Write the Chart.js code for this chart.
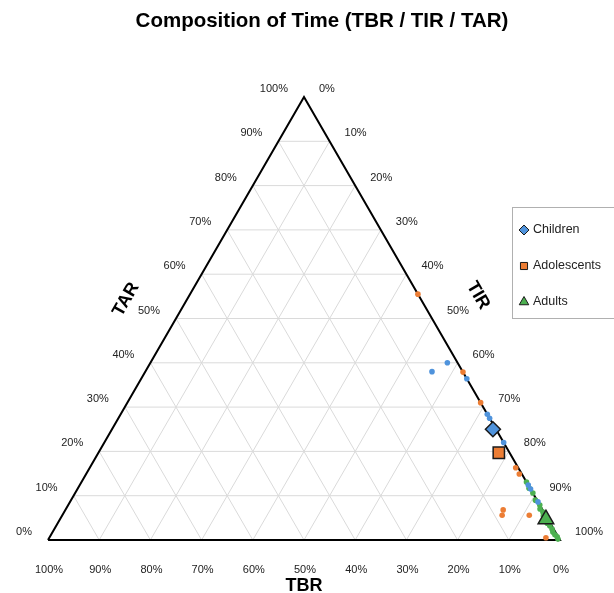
<!DOCTYPE html>
<html>
<head>
<meta charset="utf-8">
<script src="https://cdn.jsdelivr.net/npm/chart.js@4.4.1/dist/chart.umd.min.js"></script>
<style>
  html, body { margin: 0; padding: 0; background: #fff; }
  #wrap { width: 614px; height: 593px; }
</style>
</head>
<body>
<div id="wrap"><canvas id="chart" width="614" height="593"></canvas></div>
<script>
// Ternary plot: TBR / TIR / TAR fractions (each row sums to 1)
const TITLE = 'Composition of Time (TBR / TIR / TAR)';
const TICKS = [0, 0.1, 0.2, 0.3, 0.4, 0.5, 0.6, 0.7, 0.8, 0.9, 1];
const TICK_LABELS = ['0%', '10%', '20%', '30%', '40%', '50%', '60%', '70%', '80%', '90%', '100%'];
const GROUPS = ['Children', 'Adolescents', 'Adults'];

const childrenTBR = [0.02, 0.06, 0.00, 0.00, 0.00, 0.00, 0.00, 0.00, 0.00];
const childrenTIR = [0.58, 0.56, 0.636, 0.716, 0.725, 0.78, 0.885, 0.876, 0.914];
const childrenTAR = [0.40, 0.38, 0.364, 0.284, 0.275, 0.22, 0.115, 0.124, 0.086];

const adolescentsTBR = [0.00, 0.00, 0.00, 0.005, 0.005, 0.077, 0.085, 0.032, 0.025];
const adolescentsTIR = [0.445, 0.621, 0.69, 0.832, 0.846, 0.855, 0.859, 0.912, 0.97];
const adolescentsTAR = [0.555, 0.379, 0.31, 0.163, 0.149, 0.068, 0.056, 0.056, 0.005];

const adultsTBR = [0.00, 0.002, 0.00, 0.003, 0.00, 0.004, 0.002, 0.005, 0.003, 0.006, 0.004, 0.003, 0.005, 0.004, 0.002, 0.003];
const adultsTIR = [0.869, 0.881, 0.894, 0.907, 0.921, 0.926, 0.935, 0.940, 0.952, 0.956, 0.964, 0.972, 0.977, 0.984, 0.991, 0.995];
const adultsTAR = [0.131, 0.117, 0.106, 0.09, 0.079, 0.07, 0.063, 0.055, 0.045, 0.038, 0.032, 0.025, 0.018, 0.012, 0.007, 0.002];

const meanTBR = [0.006, 0.021, 0.004];
const meanTIR = [0.744, 0.782, 0.949];
const meanTAR = [0.25, 0.197, 0.047];

const COLORS = ['#4f93dc', '#ec7d34', '#4cb050'];
const MEAN_STYLES = ['rectRot', 'rect', 'triangle'];
const MEAN_RADII = [7.5, 8, 9];

const H = Math.sqrt(3) / 2;

// barycentric -> cartesian (TBR at bottom-left, TIR at bottom-right, TAR on top)
const toXY = (tbr, tir, tar) => ({x: tir + tar / 2, y: tar * H});

const groupPoints = (tbr, tir, tar) => tbr.map((v, i) => toXY(v, tir[i], tar[i]));

const lineSet = (data, color, width, order) => ({
    label: 'line',
    data: data,
    showLine: true,
    pointRadius: 0,
    borderColor: color,
    borderWidth: width,
    borderJoinStyle: 'miter',
    clip: false,
    order: order,
});

const pointSet = (label, data, color) => ({
    label: label,
    data: data,
    pointStyle: 'circle',
    pointRadius: 2.8,
    pointBorderWidth: 0,
    backgroundColor: color,
    borderColor: color,
    clip: false,
    order: 2,
});

const datasets = [
    pointSet(GROUPS[0], groupPoints(childrenTBR, childrenTIR, childrenTAR), COLORS[0]),
    pointSet(GROUPS[1], groupPoints(adolescentsTBR, adolescentsTIR, adolescentsTAR), COLORS[1]),
    pointSet(GROUPS[2], groupPoints(adultsTBR, adultsTIR, adultsTAR), COLORS[2]),
];

GROUPS.forEach((g, i) => {
    datasets.push({
        label: g + ' mean',
        data: [toXY(meanTBR[i], meanTIR[i], meanTAR[i])],
        pointStyle: MEAN_STYLES[i],
        pointRadius: MEAN_RADII[i],
        pointBorderWidth: 1.5,
        backgroundColor: COLORS[i],
        borderColor: '#1a1a1a',
        clip: false,
        order: 1,
    });
});

// grid: one line per tick on each of the three axes
TICKS.slice(1, -1).forEach((t) => {
    const r = 1 - t;
    datasets.push(lineSet([toXY(r, 0, t), toXY(0, r, t)], '#dadada', 1, 4));
    datasets.push(lineSet([toXY(r, t, 0), toXY(0, t, r)], '#dadada', 1, 4));
    datasets.push(lineSet([toXY(t, r, 0), toXY(t, 0, r)], '#dadada', 1, 4));
});

datasets.push(lineSet([toXY(1, 0, 0), toXY(0, 1, 0), toXY(0, 0, 1), toXY(1, 0, 0)], '#000', 2, 3));

const labelsPlugin = {
    id: 'ternaryLabels',
    afterDraw(chart) {
        const ctx = chart.ctx;
        const sx = chart.scales.x;
        const sy = chart.scales.y;
        const px = (p) => [sx.getPixelForValue(p.x), sy.getPixelForValue(p.y)];

        ctx.save();
        ctx.fillStyle = '#000';
        ctx.textBaseline = 'middle';

        // title
        ctx.font = 'bold 20.5px "Liberation Sans", Arial, sans-serif';
        ctx.textAlign = 'center';
        ctx.fillText(TITLE, 322, 21);

        // tick labels
        ctx.font = '11px "Liberation Sans", Arial, sans-serif';
        ctx.fillStyle = '#222';
        TICKS.forEach((t, i) => {
            const b = px(toXY(t, 1 - t, 0));
            ctx.textAlign = 'center';
            ctx.fillText(TICK_LABELS[i], b[0] + 1, b[1] + 30);

            const l = px(toXY(1 - t, 0, t));
            ctx.textAlign = 'right';
            ctx.fillText(TICK_LABELS[i], l[0] - 16, l[1] - 8);

            const r = px(toXY(0, t, 1 - t));
            ctx.textAlign = 'left';
            ctx.fillText(TICK_LABELS[i], r[0] + 15, r[1] - 8);
        });

        // axis names
        ctx.fillStyle = '#000';
        ctx.font = 'bold 18px "Liberation Sans", Arial, sans-serif';
        ctx.textAlign = 'center';
        const bm = px(toXY(0.5, 0.5, 0));
        ctx.fillText('TBR', bm[0], bm[1] + 46);

        const lm = px(toXY(0.5, 0, 0.5));
        ctx.save();
        ctx.translate(lm[0] - 50, lm[1] - 19);
        ctx.rotate(-Math.PI / 3);
        ctx.fillText('TAR', 0, 0);
        ctx.restore();

        const rm = px(toXY(0, 0.5, 0.5));
        ctx.save();
        ctx.translate(rm[0] + 46, rm[1] - 23);
        ctx.rotate(Math.PI / 3);
        ctx.fillText('TIR', 0, 0);
        ctx.restore();

        // legend
        ctx.strokeStyle = '#b0b0b0';
        ctx.lineWidth = 1;
        ctx.strokeRect(512.5, 207.5, 120, 111);
        ctx.font = '12.5px "Liberation Sans", Arial, sans-serif';
        ctx.textAlign = 'left';
        GROUPS.forEach((g, i) => {
            const ly = 230 + i * 36;
            ctx.fillStyle = COLORS[i];
            ctx.strokeStyle = '#1a1a1a';
            Chart.helpers.drawPoint(ctx, {
                pointStyle: MEAN_STYLES[i],
                radius: [5, 5, 5.5][i],
                borderWidth: 1,
                rotation: 0,
            }, 524, ly);
            ctx.fillStyle = '#222';
            ctx.fillText(g, 533, ly);
        });
        ctx.restore();
    },
};

new Chart(document.getElementById('chart'), {
    type: 'scatter',
    data: {datasets: datasets},
    options: {
        responsive: false,
        animation: false,
        layout: {padding: {left: 48, right: 54, top: 97, bottom: 53}},
        scales: {
            x: {type: 'linear', min: 0, max: 1, display: false},
            y: {type: 'linear', min: 0, max: H, display: false},
        },
        plugins: {
            legend: {display: false},
            tooltip: {enabled: false},
            title: {display: false},
        },
    },
    plugins: [labelsPlugin],
});
</script>
</body>
</html>
